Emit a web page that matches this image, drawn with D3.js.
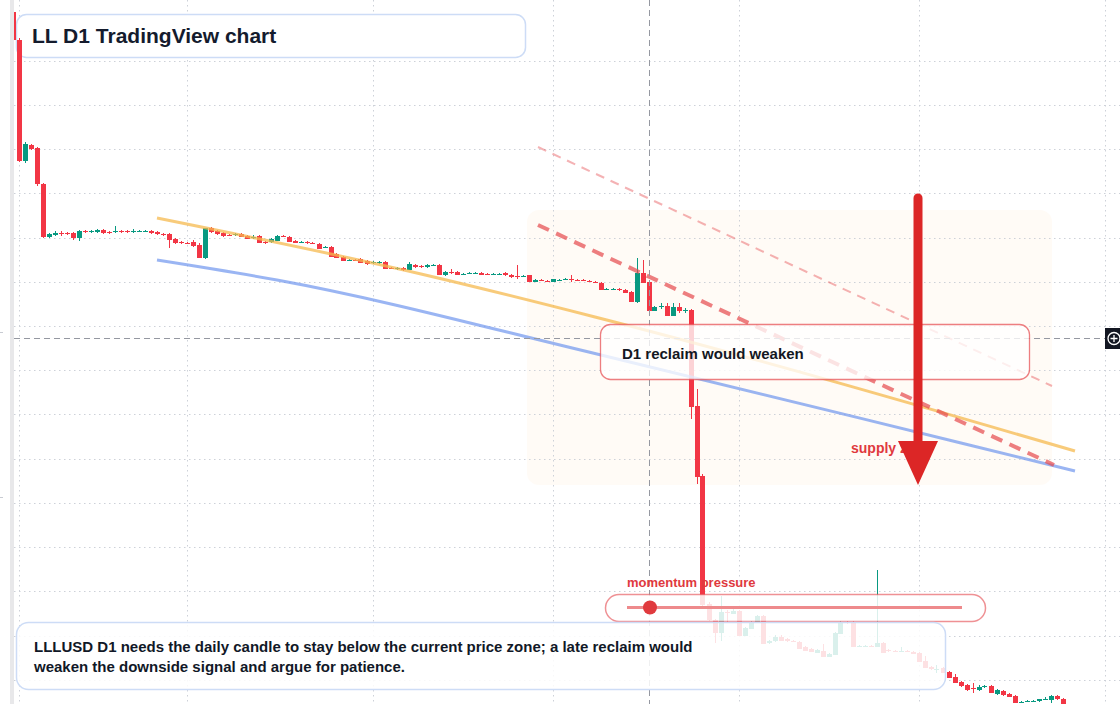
<!DOCTYPE html>
<html>
<head>
<meta charset="utf-8">
<script src="https://cdn.jsdelivr.net/npm/d3@7"></script>
<style>
  html, body { margin: 0; padding: 0; background: #fff; overflow: hidden; }
  svg { display: block; font-family: "Liberation Sans", Arial, sans-serif; }
</style>
</head>
<body>
<svg id="chart"></svg>
<script>
const svg_w = 1120;
const svg_h = 704;

// daily candles, first one is 2025-01-31
const firstDay = "2025-01-31";

const open = [
  .0988,.0960,.0839,.0855,.0852,.0816,.0763,.0765,.0767,.0767,
  .0767,.0762,.0769,.0768,.0768,.0770,.0768,.0768,.0769,.0769,
  .0768,.0768,.0768,.0769,.0768,.0766,.0766,.0761,.0758,.0757,
  .0758,.0755,.0742,.0772,.0769,.0767,.0765,.0765,.0766,.0764,
  .0762,.0764,.0758,.0758,.0759,.0764,.0763,.0759,.0757,.0758,
  .0757,.0756,.0752,.0753,.0746,.0743,.0739,.0740,.0741,.0739,
  .0737,.0737,.0738,.0732,.0731,.0732,.0730,.0735,.0734,.0733,
  .0734,.0735,.0725,.0728,.0728,.0725,.0726,.0726,.0727,.0726,
  .0725,.0725,.0727,.0725,.0724,.0723,.0725,.0718,.0720,.0719,
  .0718,.0719,.0720,.0721,.0720,.0720,.0719,.0718,.0717,.0710,
  .0710,.0711,.0710,.0708,.0698,.0727,.0718,.0689,.0693,.0694,
  .0684,.0693,.0689,.0690,.0594,.0524,.0396,.0380,.0367,.0388,
  .0386,.0389,.0364,.0371,.0377,.0384,.0357,.0359,.0363,.0361,
  .0359,.0358,.0353,.0351,.0347,.0349,.0343,.0345,.0366,.0378,
  .0378,.0353,.0353,.0354,.0353,.0357,.0350,.0349,.0348,.0349,
  .0348,.0347,.0339,.0333,.0330,.0332,.0328,.0323,.0318,.0315,
  .0312,.0310,.0313,.0314,.0306,.0309,.0306,.0304,.0297,.0298,
  .0298,.0299,.0300,.0300,.0304,.0301
];
const high = [
  .0989,.0962,.0858,.0856,.0853,.0817,.0767,.0769,.0769,.0768,
  .0768,.0770,.0770,.0770,.0771,.0771,.0769,.0774,.0770,.0770,
  .0771,.0770,.0770,.0770,.0769,.0767,.0767,.0762,.0759,.0758,
  .0760,.0757,.0772,.0773,.0770,.0768,.0766,.0767,.0767,.0765,
  .0765,.0765,.0759,.0762,.0765,.0765,.0764,.0760,.0759,.0759,
  .0758,.0757,.0754,.0754,.0747,.0744,.0741,.0741,.0742,.0740,
  .0739,.0739,.0739,.0733,.0733,.0733,.0738,.0736,.0735,.0736,
  .0736,.0736,.0729,.0731,.0729,.0727,.0728,.0728,.0728,.0727,
  .0727,.0727,.0728,.0726,.0735,.0725,.0725,.0721,.0721,.0720,
  .0721,.0721,.0722,.0725,.0721,.0721,.0720,.0719,.0718,.0712,
  .0712,.0712,.0711,.0709,.0742,.0740,.0719,.0694,.0697,.0697,
  .0697,.0697,.0692,.0691,.0611,.0526,.0398,.0381,.0404,.0390,
  .0393,.0390,.0373,.0379,.0385,.0385,.0360,.0365,.0365,.0362,
  .0360,.0359,.0354,.0352,.0351,.0356,.0347,.0368,.0379,.0379,
  .0379,.0355,.0355,.0355,.0430,.0358,.0351,.0350,.0353,.0350,
  .0349,.0348,.0344,.0334,.0335,.0333,.0329,.0326,.0319,.0316,
  .0317,.0315,.0315,.0315,.0311,.0310,.0307,.0305,.0299,.0300,
  .0300,.0301,.0303,.0305,.0305,.0302
];
const low = [
  .0959,.0838,.0837,.0850,.0814,.0762,.0762,.0764,.0764,.0765,
  .0760,.0759,.0767,.0767,.0767,.0766,.0766,.0767,.0767,.0767,
  .0767,.0768,.0768,.0766,.0765,.0764,.0752,.0756,.0756,.0756,
  .0753,.0742,.0741,.0767,.0765,.0763,.0764,.0764,.0763,.0761,
  .0761,.0757,.0756,.0757,.0759,.0763,.0758,.0757,.0757,.0756,
  .0756,.0751,.0752,.0743,.0742,.0739,.0739,.0739,.0737,.0735,
  .0736,.0736,.0731,.0731,.0730,.0729,.0730,.0732,.0732,.0732,
  .0734,.0725,.0724,.0726,.0725,.0725,.0726,.0726,.0725,.0725,
  .0725,.0725,.0724,.0722,.0721,.0723,.0718,.0718,.0719,.0718,
  .0718,.0719,.0720,.0718,.0719,.0719,.0718,.0717,.0710,.0710,
  .0710,.0709,.0707,.0698,.0697,.0717,.0689,.0689,.0691,.0684,
  .0684,.0687,.0687,.0581,.0516,.0394,.0379,.0357,.0359,.0378,
  .0386,.0364,.0364,.0371,.0377,.0356,.0356,.0358,.0359,.0358,
  .0358,.0351,.0349,.0348,.0347,.0343,.0343,.0345,.0366,.0376,
  .0353,.0353,.0353,.0353,.0353,.0347,.0348,.0348,.0348,.0348,
  .0346,.0338,.0332,.0330,.0327,.0327,.0322,.0317,.0313,.0309,
  .0307,.0309,.0312,.0307,.0305,.0304,.0303,.0297,.0297,.0298,
  .0298,.0298,.0300,.0297,.0300,.0290
];
const close = [
  .0960,.0839,.0856,.0851,.0816,.0763,.0766,.0767,.0766,.0766,
  .0762,.0769,.0768,.0769,.0770,.0767,.0767,.0769,.0768,.0768,
  .0769,.0769,.0769,.0767,.0766,.0765,.0760,.0757,.0757,.0756,
  .0754,.0742,.0772,.0768,.0766,.0764,.0764,.0766,.0763,.0761,
  .0763,.0757,.0757,.0761,.0764,.0763,.0758,.0757,.0758,.0757,
  .0756,.0751,.0753,.0743,.0742,.0739,.0740,.0739,.0737,.0736,
  .0738,.0738,.0731,.0731,.0732,.0730,.0736,.0733,.0733,.0735,
  .0735,.0725,.0728,.0727,.0725,.0726,.0727,.0727,.0725,.0725,
  .0726,.0726,.0725,.0723,.0723,.0724,.0718,.0720,.0719,.0718,
  .0721,.0720,.0721,.0720,.0719,.0719,.0718,.0717,.0710,.0711,
  .0711,.0710,.0707,.0698,.0727,.0717,.0689,.0693,.0694,.0684,
  .0693,.0689,.0690,.0593,.0523,.0395,.0380,.0367,.0388,.0387,
  .0389,.0364,.0372,.0378,.0384,.0356,.0359,.0363,.0359,.0359,
  .0358,.0351,.0349,.0348,.0350,.0343,.0346,.0367,.0378,.0377,
  .0353,.0354,.0354,.0353,.0357,.0347,.0349,.0348,.0349,.0348,
  .0346,.0338,.0332,.0331,.0331,.0327,.0322,.0317,.0314,.0310,
  .0311,.0313,.0314,.0307,.0310,.0305,.0303,.0297,.0298,.0299,
  .0299,.0301,.0301,.0304,.0301,.0292
];

// horizontal grid levels (price axis itself is off screen)
const gridPrices = [.0939,.0895,.0851,.0807,.0762,.0718,.0674,.0630,.0586,.0541,.0497,.0453,.0409,.0364,.0320];

// crosshair
const crossDate = "2025-05-17";
const crossPrice = 0.0662;

// drawn trend lines [date, price]
const orangeLine = [["2025-02-24", .0782], ["2025-04-09", .0726], ["2025-05-08", .0683], ["2025-07-27", .0549]];
const blueLine = [["2025-02-24", .0740], ["2025-03-16", .0720], ["2025-05-09", .0645], ["2025-07-08", .0557], ["2025-07-27", .0529]];
const redDash = [["2025-04-28T12:00Z", .0775], ["2025-07-23T12:00Z", .0535]];
const lightDash = [["2025-04-28T12:00Z", .0853], ["2025-07-23T04:00Z", .0614]];
const zone = {from: "2025-04-26T16:00Z", to: "2025-07-23T04:00Z", top: .0790, bottom: .0515};
const arrow = {date: "2025-06-30T20:00Z", top: .0802, base: .0559, tip: .0515};

const title = "LL D1 TradingView chart";
const boxNote = "D1 reclaim would weaken";
const zoneLabel = "supply zone";
const sliderLabel = "momentum pressure";
const footLines = [
  "LLLUSD D1 needs the daily candle to stay below the current price zone; a late reclaim would",
  "weaken the downside signal and argue for patience."
];

const up = "#089981", down = "#f23645";

const svg = d3.select("#chart").attr("width", svg_w).attr("height", svg_h);

const x = d3.scaleUtc()
  .domain([new Date("2025-02-01"), new Date("2025-08-01")])
  .range([19, 1105]);
const y = d3.scaleLinear()
  .domain([0.0296, 0.1000])
  .range([svg_h, 0]);

const candles = open.map((o, i) => ({
  date: d3.utcDay.offset(new Date(firstDay), i),
  o: o, h: high[i], l: low[i], c: close[i]
}));

svg.append("rect").attr("width", svg_w).attr("height", svg_h).attr("fill", "#fff");

// faint zone behind the breakdown
svg.append("rect")
  .attr("x", x(new Date(zone.from))).attr("y", y(zone.top))
  .attr("width", x(new Date(zone.to)) - x(new Date(zone.from)))
  .attr("height", y(zone.bottom) - y(zone.top))
  .attr("rx", 12)
  .attr("fill", "#fff3e6").attr("opacity", 0.35);

// dotted grid
const grid = svg.append("g").attr("stroke", "#cdd1d8").attr("stroke-dasharray", "1.5 3.5").attr("stroke-width", 1);
grid.selectAll("line.v")
  .data(x.ticks(d3.utcMonth.every(1)))
  .join("line").attr("class", "v")
  .attr("x1", d => Math.round(x(d)) + 0.5).attr("x2", d => Math.round(x(d)) + 0.5)
  .attr("y1", 0).attr("y2", svg_h);
grid.selectAll("line.h")
  .data(gridPrices)
  .join("line").attr("class", "h")
  .attr("x1", 14).attr("x2", svg_w)
  .attr("y1", d => Math.round(y(d)) + 0.5).attr("y2", d => Math.round(y(d)) + 0.5);

// title box
svg.append("rect")
  .attr("x", 16.5).attr("y", 14.5).attr("width", 509).attr("height", 43).attr("rx", 10)
  .attr("fill", "#fff").attr("stroke", "#cddcf6").attr("stroke-width", 1.5);

// candles
const cg = svg.append("g");
const bodyW = 5;
const cand = cg.selectAll("g").data(candles).join("g");
cand.append("line")
  .attr("x1", d => Math.round(x(d.date) - bodyW / 2) + bodyW / 2)
  .attr("x2", d => Math.round(x(d.date) - bodyW / 2) + bodyW / 2)
  .attr("y1", d => y(d.h)).attr("y2", d => y(d.l))
  .attr("stroke", d => d.c >= d.o ? up : down).attr("stroke-width", 1);
cand.append("rect")
  .attr("x", d => Math.round(x(d.date) - bodyW / 2))
  .attr("y", d => y(Math.max(d.o, d.c)))
  .attr("width", bodyW)
  .attr("height", d => Math.max(1, Math.abs(y(d.o) - y(d.c))))
  .attr("fill", d => d.c >= d.o ? up : down);

// trend lines
const pathOf = (pts, curve) => d3.line()
  .x(d => x(new Date(d[0]))).y(d => y(d[1]))
  .curve(curve || d3.curveLinear)(pts);

svg.append("path").attr("d", pathOf(orangeLine, d3.curveMonotoneX))
  .attr("fill", "none").attr("stroke", "#f6b94f").attr("stroke-width", 3).attr("opacity", 0.75);
svg.append("path").attr("d", pathOf(blueLine, d3.curveMonotoneX))
  .attr("fill", "none").attr("stroke", "#6f95ee").attr("stroke-width", 3).attr("opacity", 0.7);
svg.append("path").attr("d", pathOf(lightDash))
  .attr("fill", "none").attr("stroke", "#e5484d").attr("stroke-width", 2)
  .attr("stroke-dasharray", "9 7").attr("opacity", 0.42);
svg.append("path").attr("d", pathOf(redDash))
  .attr("fill", "none").attr("stroke", "#e5484d").attr("stroke-width", 4)
  .attr("stroke-dasharray", "12 8").attr("opacity", 0.7);

// crosshair
const cx = Math.round(x(new Date(crossDate))) + 0.5;
const cy = Math.round(y(crossPrice)) + 0.5;
svg.append("line").attr("x1", cx).attr("x2", cx).attr("y1", 0).attr("y2", svg_h)
  .attr("stroke", "#9598a1").attr("stroke-dasharray", "6 4");
svg.append("line").attr("x1", 14).attr("x2", 1105).attr("y1", cy).attr("y2", cy)
  .attr("stroke", "#9598a1").attr("stroke-dasharray", "6 4");

// note box
svg.append("rect")
  .attr("x", 600.5).attr("y", 324.5).attr("width", 429).attr("height", 55).attr("rx", 10)
  .attr("fill", "#fff").attr("fill-opacity", 0.78)
  .attr("stroke", "#e5484d").attr("stroke-opacity", 0.7).attr("stroke-width", 1.3);
svg.append("text").attr("x", 622).attr("y", 359)
  .attr("font-size", 15).attr("font-weight", "bold").attr("fill", "#131722")
  .text(boxNote);

// zone label + arrow
svg.append("text").attr("x", 851).attr("y", 453)
  .attr("font-size", 14).attr("font-weight", "bold").attr("fill", "#e0393e")
  .text(zoneLabel);
const ax = x(new Date(arrow.date));
svg.append("line").attr("x1", ax).attr("x2", ax)
  .attr("y1", y(arrow.top)).attr("y2", y(arrow.base) + 4)
  .attr("stroke", "#dc2626").attr("stroke-width", 9).attr("stroke-linecap", "round");
svg.append("path")
  .attr("d", `M${ax - 20},${y(arrow.base)}L${ax + 20},${y(arrow.base)}L${ax},${y(arrow.tip)}Z`)
  .attr("fill", "#dc2626");

// momentum slider
svg.append("text").attr("x", 627).attr("y", 587)
  .attr("font-size", 13).attr("font-weight", "bold").attr("fill", "#e0393e")
  .text(sliderLabel);
svg.append("rect")
  .attr("x", 605.5).attr("y", 594.5).attr("width", 380).attr("height", 27).attr("rx", 13.5)
  .attr("fill", "#fff").attr("fill-opacity", 0.85)
  .attr("stroke", "#e5484d").attr("stroke-opacity", 0.6).attr("stroke-width", 1.5);
svg.append("line").attr("x1", 627).attr("x2", 962).attr("y1", 607.5).attr("y2", 607.5)
  .attr("stroke", "#ee8a8c").attr("stroke-width", 3);
svg.append("circle").attr("cx", 650).attr("cy", 607.5).attr("r", 7).attr("fill", "#e03a3e");

// footnote box
svg.append("rect")
  .attr("x", 16.5).attr("y", 622.5).attr("width", 929).attr("height", 67).attr("rx", 12)
  .attr("fill", "#fff").attr("fill-opacity", 0.85)
  .attr("stroke", "#cddcf6").attr("stroke-width", 1.5);
svg.append("text")
  .attr("font-size", 15).attr("font-weight", "bold").attr("fill", "#111827")
  .selectAll("tspan").data(footLines).join("tspan")
  .attr("x", 34).attr("y", (d, i) => 652 + i * 20)
  .text(d => d);

// title
svg.append("text").attr("x", 32).attr("y", 43)
  .attr("font-size", 21).attr("font-weight", "bold").attr("fill", "#141b2d")
  .text(title);

// left edge strip + price scale remnants
svg.append("rect").attr("x", 0).attr("y", 0).attr("width", 10).attr("height", svg_h).attr("fill", "#fff");
svg.append("rect").attr("x", 10).attr("y", 0).attr("width", 4).attr("height", svg_h).attr("fill", "#e8e8ea");
svg.selectAll("line.tick").data([332, 497]).join("line").attr("class", "tick")
  .attr("x1", 0).attr("x2", 3).attr("y1", d => d + 0.5).attr("y2", d => d + 0.5)
  .attr("stroke", "#c8cbd2");

// crosshair handle on the right
svg.append("rect").attr("x", 1105).attr("y", 328).attr("width", 15).attr("height", 21).attr("fill", "#131722");
svg.append("circle").attr("cx", 1114).attr("cy", cy).attr("r", 6)
  .attr("fill", "none").attr("stroke", "#fff").attr("stroke-width", 1.3);
svg.append("path").attr("d", `M1110.5,${cy}H1117.5M1114,${cy - 3.5}V${cy + 3.5}`)
  .attr("stroke", "#fff").attr("stroke-width", 1.3);
</script>
</body>
</html>
